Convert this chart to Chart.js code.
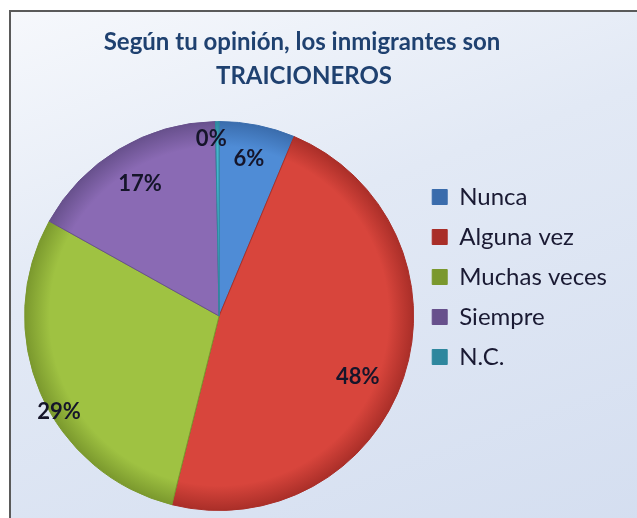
<!DOCTYPE html>
<html>
<head>
<meta charset="utf-8">
<script src="https://cdn.jsdelivr.net/npm/chart.js@4.4.0/dist/chart.umd.min.js"></script>
<style>
body{margin:0;background:#fff;width:637px;height:518px;overflow:hidden;position:relative}
#frame{position:absolute;left:9px;top:10px;width:640px;height:520px;border-left:2px solid #5a5a5a;border-top:2px solid #5a5a5a;
 background:linear-gradient(160deg,#f6f8fc 0%,#e2e9f5 40%,#d4def0 100%)}
#c{position:absolute;left:0;top:0}
</style>
</head>
<body>
<div id="frame"></div>
<canvas id="c" width="637" height="518"></canvas>
<script>
var titleLines = ["Según tu opinión, los inmigrantes son", "TRAICIONEROS"];
var categories = ["Nunca", "Alguna vez", "Muchas veces", "Siempre", "N.C."];
var values = [6.3, 47.6, 29.2, 16.6, 0.3];

var baseColors = ["#4f8cd6", "#d8453c", "#9fc242", "#8a6ab4", "#45b5cc"];
var rimColors = ["#3a6cac", "#a92e28", "#7a982d", "#67508c", "#2e879e"];
// label placement per slice (fraction of radius, angle nudge in degrees)
var labelRadius = [0.82, 0.78, 0.96, 0.79, 0.91];
var labelNudge = [-0.6, 5.5, -7.6, 0, -2];

var FONT = "Lato, 'Open Sans', sans-serif";

function sliceFill(ctx) {
	var i = ctx.dataIndex;
	var chart = ctx.chart;
	var a = chart.chartArea;
	if (!a) return baseColors[i];
	var cx = (a.left + a.right) / 2, cy = (a.top + a.bottom) / 2;
	var r = Math.min(a.width, a.height) / 2;
	var g = chart.ctx.createRadialGradient(cx, cy, 0, cx, cy, r);
	g.addColorStop(0, baseColors[i]);
	g.addColorStop(0.87, baseColors[i]);
	g.addColorStop(1, rimColors[i]);
	return g;
}

// title drawn centred over the whole frame, not only the plot part
var frameTitle = {
	id: 'frameTitle',
	afterDraw: function(chart) {
		var ctx = chart.ctx;
		ctx.save();
		ctx.font = "bold 24px " + FONT;
		ctx.fillStyle = "#1f4170";
		ctx.textAlign = "center";
		ctx.textBaseline = "middle";
		ctx.fillText(titleLines[0], 302, 42);
		ctx.fillText(titleLines[1], 304, 76);
		ctx.restore();
	}
};

var pctLabels = {
	id: 'pctLabels',
	afterDatasetsDraw: function(chart) {
		var ctx = chart.ctx;
		var meta = chart.getDatasetMeta(0);
		ctx.save();
		ctx.font = "bold 22px " + FONT;
		ctx.fillStyle = "#15152a";
		ctx.textAlign = "center";
		ctx.textBaseline = "middle";
		meta.data.forEach(function(arc, i) {
			var p = arc.getProps(['x', 'y', 'startAngle', 'endAngle', 'outerRadius'], true);
			var mid = (p.startAngle + p.endAngle) / 2 + labelNudge[i] * Math.PI / 180;
			var r = p.outerRadius * labelRadius[i];
			ctx.fillText(Math.round(values[i]) + "%", p.x + Math.cos(mid) * r, p.y + Math.sin(mid) * r);
		});
		ctx.restore();
	}
};

new Chart('c', {
	type: 'pie',
	data: {
		labels: categories,
		datasets: [{
			data: values,
			backgroundColor: sliceFill,
			borderColor: rimColors,
			borderWidth: 1
		}]
	},
	options: {
		responsive: false,
		animation: false,
		layout: { padding: { left: 22, right: 20, top: 121, bottom: 7 } },
		plugins: {
			tooltip: { enabled: false },
			title: { display: false },
			legend: {
				position: 'right',
				align: 'start',
				title: { display: true, text: ' ', font: { size: 10 }, padding: { top: 36, bottom: 0 } },
				labels: {
					color: "#1a1a33",
					font: { family: FONT, size: 24 },
					boxWidth: 15,
					boxHeight: 15,
					padding: 16
				}
			}
		}
	},
	plugins: [pctLabels, frameTitle]
});
</script>
</body>
</html>
